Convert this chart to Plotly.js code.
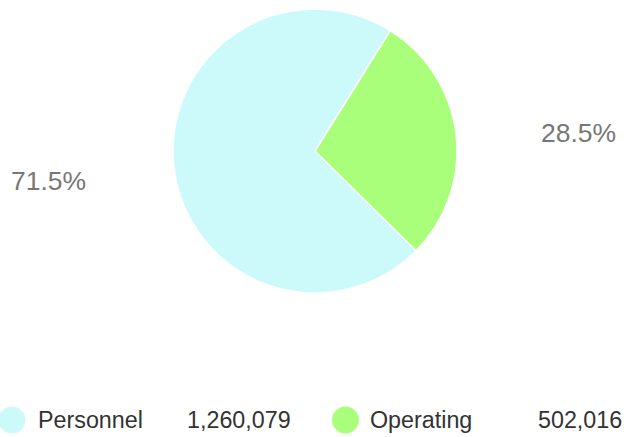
<!DOCTYPE html>
<html>
<head>
<meta charset="utf-8">
<script src="https://cdn.plot.ly/plotly-3.0.1.min.js"></script>
<style>html,body{margin:0;padding:0;background:#fff;}#chart{width:628px;height:437px;}</style>
</head>
<body>
<div id="chart"></div>
<script>
var categories = ["Personnel", "Operating"];
var values = [1260079, 502016];
var colors = ["#ccfafa", "#aaff7a"];

var W = 628, H = 437;
var total = values.reduce(function(a, b){ return a + b; }, 0);
var pct = values.map(function(v){ return (v / total * 100).toFixed(1) + "%"; });
function fmt(v){ return v.toLocaleString("en-US"); }
function px(x){ return x / W; }
function py(y){ return 1 - y / H; }

var cx = 315, cy = 151, r = 142;
var trace = {
  type: "pie",
  labels: categories,
  values: values,
  sort: false,
  direction: "clockwise",
  rotation: 134.6,
  textinfo: "none",
  hoverinfo: "label+value+percent",
  marker: { colors: colors, line: { color: "#ffffff", width: 1.5 } },
  domain: { x: [px(cx - r), px(cx + r)], y: [py(cy + r), py(cy - r)] },
  showlegend: false
};

var font = "Liberation Sans, Arial, Helvetica, sans-serif";
var pctPos = [[48, 181], [578, 133]];
var legendPos = [
  { circle: 12, name: 36, value: 185 },
  { circle: 345.5, name: 368, value: 536 }
];
var legendY = 420;

var annotations = [];
var shapes = [];
categories.forEach(function(c, i){
  annotations.push({
    text: pct[i], xref: "paper", yref: "paper",
    x: px(pctPos[i][0]), y: py(pctPos[i][1]),
    xanchor: "center", yanchor: "middle", showarrow: false,
    font: { family: font, size: 26.5, color: "#777777" }
  });
  annotations.push({
    text: c, xref: "paper", yref: "paper",
    x: px(legendPos[i].name), y: py(legendY),
    xanchor: "left", yanchor: "middle", showarrow: false,
    font: { family: font, size: 23.3, color: "#333333" }
  });
  annotations.push({
    text: fmt(values[i]), xref: "paper", yref: "paper",
    x: px(legendPos[i].value), y: py(legendY),
    xanchor: "left", yanchor: "middle", showarrow: false,
    font: { family: font, size: 23.3, color: "#333333" }
  });
  shapes.push({
    type: "circle", xref: "paper", yref: "paper",
    x0: px(legendPos[i].circle - 13.5), x1: px(legendPos[i].circle + 13.5),
    y0: py(legendY + 13.5), y1: py(legendY - 13.5),
    fillcolor: colors[i], line: { width: 0 }
  });
});

var layout = {
  width: W, height: H,
  margin: { l: 0, r: 0, t: 0, b: 0 },
  paper_bgcolor: "#ffffff",
  showlegend: false,
  annotations: annotations,
  shapes: shapes
};

Plotly.newPlot("chart", [trace], layout, { displayModeBar: false, staticPlot: true });
</script>
</body>
</html>
